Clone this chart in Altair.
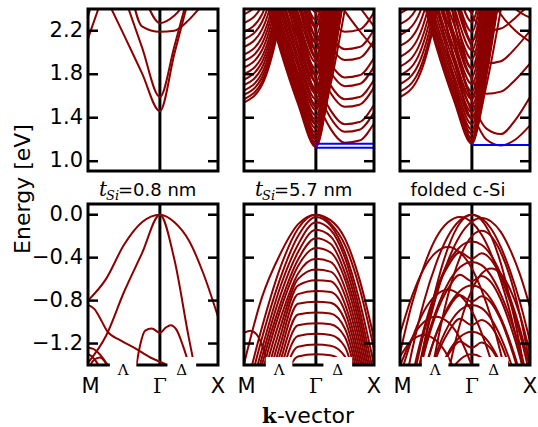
import altair as alt
import pandas as pd

RED = "#8B0000"
GAMMA = 0.553
W = 130
H_TOP = 162
H_BOT = 161
Y_TOP = [0.91, 2.40]
Y_BOT = [-1.40, 0.10]
TICKS_TOP = [1.0, 1.4, 1.8, 2.2]
TICK_LABELS_TOP = ["1.0", "1.4", "1.8", "2.2"]
TICKS_BOT = [-1.2, -0.8, -0.4, 0.0]
TICK_LABELS_BOT = ["\u22121.2", "\u22120.8", "\u22120.4", "0.0"]

# k grids (M = 0, Gamma = 0.553, X = 1)
K9 = [0.0, 0.138, 0.277, 0.415, 0.553, 0.665, 0.776, 0.888, 1.0]
K13 = [0.0, 0.092, 0.184, 0.276, 0.369, 0.461, 0.553, 0.627, 0.701, 0.775, 0.849, 0.924, 1.0]

# ---------------- panel 1 : t_Si = 0.8 nm ----------------
P1_CB = [
    [2.90, 2.51, 2.16, 1.81, 1.46, 1.99, 2.50, 3.00, 3.40],
    [3.60, 3.00, 2.52, 2.05, 1.59, 2.06, 2.55, 3.00, 3.40],
    [3.50, 3.20, 2.80, 2.24, 2.19, 2.20, 2.30, 2.45, 2.60],
    [3.60, 3.30, 2.90, 2.55, 2.27, 2.34, 2.50, 2.70, 2.90],
    [2.13, 2.60, 3.10, 3.50, 3.80, 3.80, 3.80, 3.80, 3.80],
    [2.33, 2.90, 3.40, 3.80, 3.80, 3.80, 3.80, 3.80, 3.80],
]
P1_VB = [
    (K9, [-0.80, -0.60, -0.28, -0.07, 0.0, -0.07, -0.24, -0.55, -0.95]),
    (K9, [-1.38, -1.13, -0.72, -0.36, 0.0, -0.42, -1.15, -1.80, -2.30]),
    ([0.0, 0.05, 0.10, 0.15, 0.25, 0.37, 0.48, 0.553, 0.60, 0.65],
     [-0.84, -0.88, -0.98, -1.09, -1.17, -1.25, -1.33, -1.37, -1.40, -1.50]),
    ([0.366, 0.40, 0.44, 0.49, 0.553, 0.60, 0.635, 0.68, 0.73, 0.79],
     [-1.45, -1.22, -1.08, -1.06, -1.10, -1.05, -1.03, -1.07, -1.22, -1.45]),
    ([0.0, 0.04, 0.09, 0.14, 0.18], [-1.24, -1.25, -1.30, -1.38, -1.45]),
    ([0.0, 0.03, 0.07, 0.10], [-1.30, -1.32, -1.38, -1.45]),
    ([0.0, 0.04, 0.09, 0.13, 0.16], [-1.45, -1.36, -1.33, -1.37, -1.45]),
]

# ---------------- panel 2 : t_Si = 5.7 nm ----------------
P2_CB = [
    # subbands with minimum at Gamma
    [3.23, 2.63, 2.03, 1.53, 1.13, 1.76, 2.58, 3.43, 4.23],
    [3.25, 2.65, 2.05, 1.55, 1.15, 1.78, 2.60, 3.45, 4.25],
    [3.27, 2.67, 2.07, 1.57, 1.17, 1.80, 2.62, 3.47, 4.27],
    [3.30, 2.70, 2.10, 1.60, 1.20, 1.83, 2.65, 3.50, 4.30],
    [3.33, 2.73, 2.13, 1.63, 1.23, 1.86, 2.68, 3.53, 4.33],
    [3.36, 2.76, 2.16, 1.66, 1.26, 1.89, 2.71, 3.56, 4.36],
    [3.40, 2.80, 2.20, 1.70, 1.30, 1.93, 2.75, 3.60, 4.40],
    [3.44, 2.84, 2.24, 1.74, 1.34, 1.97, 2.79, 3.64, 4.44],
    [3.48, 2.88, 2.28, 1.78, 1.38, 2.01, 2.83, 3.68, 4.48],
    [3.52, 2.92, 2.32, 1.82, 1.42, 2.05, 2.87, 3.72, 4.52],
    [3.57, 2.97, 2.37, 1.87, 1.47, 2.10, 2.92, 3.77, 4.57],
    [3.62, 3.02, 2.42, 1.92, 1.52, 2.15, 2.97, 3.82, 4.62],
    [3.67, 3.07, 2.47, 1.97, 1.57, 2.20, 3.02, 3.87, 4.67],
    [3.72, 3.12, 2.52, 2.02, 1.62, 2.25, 3.07, 3.92, 4.72],
    [3.77, 3.17, 2.57, 2.07, 1.67, 2.30, 3.12, 3.97, 4.77],
    [3.83, 3.23, 2.63, 2.13, 1.73, 2.36, 3.18, 4.03, 4.83],
    [3.89, 3.29, 2.69, 2.19, 1.79, 2.42, 3.24, 4.09, 4.89],
    [3.95, 3.35, 2.75, 2.25, 1.85, 2.48, 3.30, 4.15, 4.95],
    [4.01, 3.41, 2.81, 2.31, 1.91, 2.54, 3.36, 4.21, 5.01],
    [4.07, 3.47, 2.87, 2.37, 1.97, 2.60, 3.42, 4.27, 5.07],
    [4.13, 3.53, 2.93, 2.43, 2.03, 2.66, 3.48, 4.33, 5.13],
    [4.19, 3.59, 2.99, 2.49, 2.09, 2.72, 3.54, 4.39, 5.19],
    [4.26, 3.66, 3.06, 2.56, 2.16, 2.79, 3.61, 4.46, 5.26],
    [4.33, 3.73, 3.13, 2.63, 2.23, 2.86, 3.68, 4.53, 5.33],
    [4.40, 3.80, 3.20, 2.70, 2.30, 2.93, 3.75, 4.60, 5.40],
    [4.47, 3.87, 3.27, 2.77, 2.37, 3.00, 3.82, 4.67, 5.47],
    # steeper subbands at Gamma
    [4.20, 3.30, 2.50, 1.75, 1.20, 1.70, 2.40, 3.20, 4.00],
    [4.35, 3.45, 2.65, 1.90, 1.35, 1.85, 2.55, 3.35, 4.15],
    [4.50, 3.60, 2.80, 2.05, 1.50, 2.00, 2.70, 3.50, 4.30],
    [4.65, 3.75, 2.95, 2.20, 1.65, 2.15, 2.85, 3.65, 4.45],
    [4.80, 3.90, 3.10, 2.35, 1.80, 2.30, 3.00, 3.80, 4.60],
    [4.95, 4.05, 3.25, 2.50, 1.95, 2.45, 3.15, 3.95, 4.75],
    [5.10, 4.20, 3.40, 2.65, 2.10, 2.60, 3.30, 4.10, 4.90],
    [5.25, 4.35, 3.55, 2.80, 2.25, 2.75, 3.45, 4.25, 5.05],
    # X-valley subbands (minimum between Gamma and X)
    [5.16, 3.96, 2.93, 2.14, 1.59, 1.30, 1.17, 1.19, 1.35],
    [5.26, 4.06, 3.03, 2.24, 1.69, 1.40, 1.27, 1.29, 1.45],
    [5.33, 4.13, 3.10, 2.31, 1.76, 1.47, 1.34, 1.36, 1.52],
    [5.49, 4.29, 3.26, 2.47, 1.92, 1.63, 1.50, 1.52, 1.68],
    [5.56, 4.36, 3.33, 2.54, 1.99, 1.70, 1.57, 1.59, 1.75],
    [5.68, 4.48, 3.45, 2.66, 2.11, 1.82, 1.69, 1.71, 1.87],
    [5.76, 4.56, 3.53, 2.74, 2.19, 1.90, 1.77, 1.79, 1.95],
    [5.92, 4.72, 3.69, 2.90, 2.35, 2.06, 1.93, 1.95, 2.11],
    [6.02, 4.82, 3.79, 3.00, 2.45, 2.16, 2.03, 2.05, 2.21],
    [6.18, 4.98, 3.95, 3.16, 2.61, 2.32, 2.19, 2.21, 2.37],
    # bands falling towards X
    [4.00, 4.00, 4.00, 3.60, 3.00, 2.60, 2.38, 2.20, 2.04],
    [4.00, 4.00, 4.00, 3.80, 3.30, 2.90, 2.60, 2.42, 2.24],
    # subbands with minimum at M
    [1.54, 1.70, 2.29, 3.34, 5.04, 6.5, 8.0, 9.5, 11.0],
    [1.57, 1.73, 2.32, 3.37, 5.07, 6.5, 8.0, 9.5, 11.0],
    [1.61, 1.77, 2.36, 3.41, 5.11, 6.5, 8.0, 9.5, 11.0],
    [1.65, 1.81, 2.40, 3.45, 5.15, 6.6, 8.1, 9.6, 11.1],
    [1.70, 1.86, 2.45, 3.50, 5.20, 6.6, 8.1, 9.6, 11.1],
    [1.75, 1.91, 2.50, 3.55, 5.25, 6.7, 8.2, 9.7, 11.2],
    [1.80, 1.96, 2.55, 3.60, 5.30, 6.7, 8.2, 9.7, 11.2],
    [1.86, 2.02, 2.61, 3.66, 5.36, 6.8, 8.3, 9.8, 11.3],
    [1.92, 2.08, 2.67, 3.72, 5.42, 6.8, 8.3, 9.8, 11.3],
    [1.98, 2.14, 2.73, 3.78, 5.48, 6.9, 8.4, 9.9, 11.4],
    [2.05, 2.21, 2.80, 3.85, 5.55, 7.0, 8.5, 10.0, 11.5],
    [2.12, 2.28, 2.87, 3.92, 5.62, 7.0, 8.5, 10.0, 11.5],
    [2.19, 2.35, 2.94, 3.99, 5.69, 7.1, 8.6, 10.1, 11.6],
    [2.27, 2.43, 3.02, 4.07, 5.77, 7.2, 8.7, 10.2, 11.7],
    [2.35, 2.51, 3.10, 4.15, 5.85, 7.3, 8.8, 10.3, 11.8],
]
P2_VB = [
    [-1.39, -0.77, -0.37, -0.09, 0.00, -0.08, -0.28, -0.68, -1.25],
    [-1.70, -1.05, -0.50, -0.13, 0.00, -0.05, -0.22, -0.60, -1.15],
    [-1.80, -1.15, -0.60, -0.20, -0.02, -0.10, -0.35, -0.80, -1.40],
    [-1.90, -1.25, -0.68, -0.28, -0.07, -0.14, -0.40, -0.88, -1.50],
    [-2.00, -1.33, -0.76, -0.35, -0.14, -0.20, -0.47, -0.95, -1.60],
    [-2.10, -1.40, -0.84, -0.42, -0.22, -0.27, -0.54, -1.02, -1.70],
    [-2.20, -1.48, -0.90, -0.48, -0.31, -0.35, -0.60, -1.10, -1.80],
    [-2.30, -1.57, -0.98, -0.55, -0.41, -0.44, -0.68, -1.18, -1.90],
    [-2.40, -1.66, -1.06, -0.60, -0.51, -0.53, -0.75, -1.26, -2.00],
    [-2.50, -1.75, -1.14, -0.66, -0.61, -0.62, -0.83, -1.34, -2.10],
    [-2.60, -1.85, -1.22, -0.74, -0.71, -0.72, -0.90, -1.42, -2.20],
    [-2.70, -1.95, -1.30, -0.83, -0.81, -0.82, -0.98, -1.50, -2.30],
    [-2.80, -2.05, -1.38, -0.93, -0.91, -0.92, -1.06, -1.58, -2.40],
    [-2.90, -2.15, -1.46, -1.03, -1.01, -1.02, -1.14, -1.66, -2.50],
    [-3.00, -2.25, -1.54, -1.13, -1.11, -1.12, -1.23, -1.75, -2.60],
    [-3.10, -2.35, -1.62, -1.23, -1.21, -1.22, -1.32, -1.84, -2.70],
    [-3.20, -2.45, -1.70, -1.32, -1.30, -1.31, -1.40, -1.90, -2.80],
]
P2_VB_EDGE = ([0.0, 0.05, 0.10, 0.15, 0.20], [-1.10, -1.08, -1.12, -1.25, -1.45])

# ---------------- panel 3 : folded c-Si ----------------
P3_CB = [
    [3.26, 2.66, 2.06, 1.56, 1.16, 1.79, 2.61, 3.46, 4.26],
    [3.28, 2.68, 2.08, 1.58, 1.18, 1.81, 2.63, 3.48, 4.28],
    [3.31, 2.71, 2.11, 1.61, 1.21, 1.84, 2.66, 3.51, 4.31],
    [3.35, 2.75, 2.15, 1.65, 1.25, 1.88, 2.70, 3.55, 4.35],
    [3.39, 2.79, 2.19, 1.69, 1.29, 1.92, 2.74, 3.59, 4.39],
    [3.44, 2.84, 2.24, 1.74, 1.34, 1.97, 2.79, 3.64, 4.44],
    [3.49, 2.89, 2.29, 1.79, 1.39, 2.02, 2.84, 3.69, 4.49],
    [3.55, 2.95, 2.35, 1.85, 1.45, 2.08, 2.90, 3.75, 4.55],
    [3.61, 3.01, 2.41, 1.91, 1.51, 2.14, 2.96, 3.81, 4.61],
    [3.67, 3.07, 2.47, 1.97, 1.57, 2.20, 3.02, 3.87, 4.67],
    [3.74, 3.14, 2.54, 2.04, 1.64, 2.27, 3.09, 3.94, 4.74],
    [3.81, 3.21, 2.61, 2.11, 1.71, 2.34, 3.16, 4.01, 4.81],
    [3.88, 3.28, 2.68, 2.18, 1.78, 2.41, 3.23, 4.08, 4.88],
    [3.96, 3.36, 2.76, 2.26, 1.86, 2.49, 3.31, 4.16, 4.96],
    [4.04, 3.44, 2.84, 2.34, 1.94, 2.57, 3.39, 4.24, 5.04],
    [4.12, 3.52, 2.92, 2.42, 2.02, 2.65, 3.47, 4.32, 5.12],
    [4.20, 3.60, 3.00, 2.50, 2.10, 2.73, 3.55, 4.40, 5.20],
    [4.29, 3.69, 3.09, 2.59, 2.19, 2.82, 3.64, 4.49, 5.29],
    [4.38, 3.78, 3.18, 2.68, 2.28, 2.91, 3.73, 4.58, 5.38],
    [4.47, 3.87, 3.27, 2.77, 2.37, 3.00, 3.82, 4.67, 5.47],
    [4.20, 3.30, 2.50, 1.75, 1.20, 1.70, 2.40, 3.20, 4.00],
    [4.40, 3.50, 2.70, 1.95, 1.40, 1.90, 2.60, 3.40, 4.20],
    [4.60, 3.70, 2.90, 2.15, 1.60, 2.10, 2.80, 3.60, 4.40],
    [4.85, 3.95, 3.15, 2.40, 1.85, 2.35, 3.05, 3.85, 4.65],
    [5.10, 4.20, 3.40, 2.65, 2.10, 2.60, 3.30, 4.10, 4.90],
    # valleys between Gamma and X
    [4.60, 3.60, 2.70, 1.95, 1.45, 1.20, 1.145, 1.20, 1.33],
    [4.00, 3.50, 2.80, 2.10, 1.55, 1.30, 1.25, 1.38, 1.59],
    [4.00, 4.00, 3.50, 2.30, 1.75, 1.62, 1.64, 1.75, 1.90],
    [4.00, 4.00, 3.80, 2.60, 2.05, 1.90, 1.92, 2.04, 2.20],
    [4.00, 4.00, 4.00, 2.90, 2.35, 2.20, 2.22, 2.32, 2.45],
    [4.00, 4.00, 4.00, 3.60, 3.00, 2.60, 2.35, 2.20, 2.10],
    [4.00, 4.00, 4.00, 3.80, 3.20, 2.80, 2.55, 2.40, 2.32],
    # bands with minimum at M
    [1.59, 1.76, 2.35, 3.40, 5.10, 6.5, 8.0, 9.5, 11.0],
    [1.64, 1.81, 2.40, 3.45, 5.15, 6.6, 8.1, 9.6, 11.1],
    [1.71, 1.88, 2.47, 3.52, 5.22, 6.6, 8.1, 9.6, 11.1],
    [1.79, 1.96, 2.55, 3.60, 5.30, 6.7, 8.2, 9.7, 11.2],
    [1.87, 2.04, 2.63, 3.68, 5.38, 6.8, 8.3, 9.8, 11.3],
    [1.96, 2.13, 2.72, 3.77, 5.47, 6.9, 8.4, 9.9, 11.4],
    [2.06, 2.23, 2.82, 3.87, 5.57, 7.0, 8.5, 10.0, 11.5],
    [2.16, 2.33, 2.92, 3.97, 5.67, 7.1, 8.6, 10.1, 11.6],
    [2.26, 2.43, 3.02, 4.07, 5.77, 7.2, 8.7, 10.2, 11.7],
    [2.36, 2.53, 3.12, 4.17, 5.87, 7.3, 8.8, 10.3, 11.8],
]
P3_VB = [
    [-1.83, -1.27, -0.81, -0.46, -0.20, -0.051, 0.00, -0.033, -0.13, -0.30, -0.53, -0.82, -1.18],
    [-2.70, -1.90, -1.22, -0.69, -0.31, -0.077, 0.00, -0.05, -0.20, -0.45, -0.80, -1.23, -1.77],
    [-1.29, -0.83, -0.48, -0.22, -0.071, -0.02, -0.071, -0.185, -0.366, -0.61, -0.92, -1.31, -1.76],
    [-2.39, -1.75, -1.21, -0.77, -0.43, -0.195, -0.063, -0.03, -0.063, -0.16, -0.33, -0.56, -0.86],
    [-2.08, -1.52, -1.06, -0.71, -0.45, -0.30, -0.25, -0.28, -0.38, -0.55, -0.78, -1.07, -1.43],
    [-2.27, -1.71, -1.25, -0.90, -0.64, -0.49, -0.44, -0.47, -0.57, -0.74, -0.97, -1.26, -1.62],
    [-2.49, -1.93, -1.47, -1.12, -0.86, -0.71, -0.66, -0.69, -0.79, -0.96, -1.19, -1.48, -1.84],
    [-2.67, -2.11, -1.65, -1.30, -1.04, -0.89, -0.84, -0.87, -0.97, -1.14, -1.37, -1.66, -2.02],
    [-2.92, -2.36, -1.90, -1.55, -1.29, -1.14, -1.09, -1.12, -1.22, -1.39, -1.62, -1.91, -2.27],
    [-3.13, -2.57, -2.11, -1.76, -1.50, -1.35, -1.30, -1.33, -1.43, -1.60, -1.83, -2.12, -2.48],
    [-2.20, -1.60, -1.10, -0.72, -0.48, -0.35, -0.41, -0.36, -0.42, -0.58, -0.82, -1.12, -1.50],
    [-2.40, -1.80, -1.30, -0.93, -0.69, -0.56, -0.62, -0.57, -0.63, -0.79, -1.03, -1.33, -1.70],
    [-2.60, -2.00, -1.50, -1.12, -0.88, -0.75, -0.81, -0.76, -0.82, -0.98, -1.22, -1.52, -1.90],
    [-2.80, -2.20, -1.70, -1.34, -1.10, -0.97, -1.03, -0.98, -1.04, -1.20, -1.44, -1.74, -2.10],
    [-3.00, -2.40, -1.90, -1.55, -1.31, -1.18, -1.24, -1.19, -1.25, -1.41, -1.65, -1.95, -2.30],
    [-1.41, -1.15, -1.00, -0.95, -1.00, -1.15, -1.41, -1.69, -2.03, -2.50, -3.00, -3.50, -4.00],
    [-1.32, -1.17, -1.12, -1.17, -1.32, -1.58, -1.93, -2.30, -2.70, -3.10, -3.50, -4.00, -4.50],
    [-1.51, -1.16, -0.90, -0.751, -0.70, -0.751, -0.90, -1.10, -1.36, -1.69, -2.08, -2.55, -3.07],
    [-1.11, -0.76, -0.50, -0.351, -0.30, -0.351, -0.50, -0.70, -0.96, -1.29, -1.68, -2.15, -2.67],
    [-3.65, -2.75, -1.92, -1.26, -0.75, -0.40, -0.20, -0.15, -0.20, -0.35, -0.59, -0.94, -1.40],
    [-4.50, -3.60, -2.90, -2.10, -1.49, -1.02, -0.70, -0.55, -0.50, -0.55, -0.70, -0.94, -1.29],
]

BLUE_LEVELS = [[], [1.16, 1.123], [1.15]]
GAP_START = [0.168, 0.611]
GAP_END = [0.372, 0.832]
SYM_K = [0.27, 0.72]
SYM_TEXT = ["Λ", "Δ"]
TITLES = [("t", "Si", "=0.8 nm"), ("t", "Si", "=5.7 nm"), None]


def grid_frame(bands, grid):
    rows = []
    for i, b in enumerate(bands):
        for k, e in zip(grid, b):
            rows.append({"band": i, "k": k, "E": e})
    return pd.DataFrame(rows)


def point_frame(bands, start=0):
    rows = []
    for i, (ks, es) in enumerate(bands):
        for k, e in zip(ks, es):
            rows.append({"band": start + i, "k": k, "E": e})
    return pd.DataFrame(rows)


def ex(field="k"):
    return alt.X(f"{field}:Q", scale=alt.Scale(domain=[0, 1], nice=False, zero=False), axis=None)


def ey(ydom, field="E"):
    return alt.Y(f"{field}:Q", scale=alt.Scale(domain=ydom, nice=False, zero=False), axis=None)


def text_at(s, x, y, size, font="DejaVu Sans", style="normal", weight="normal",
            align="left", angle=0):
    return alt.Chart(pd.DataFrame({"s": [s]})).mark_text(
        font=font, fontSize=size, fontStyle=style, fontWeight=weight, align=align,
        baseline="alphabetic", angle=angle, color="black"
    ).encode(text="s:N", x=alt.value(x), y=alt.value(y))


def panel(idx, bottom, band_df):
    H = H_BOT if bottom else H_TOP
    ydom = Y_BOT if bottom else Y_TOP
    yticks = TICKS_BOT if bottom else TICKS_TOP
    ylabels = TICK_LABELS_BOT if bottom else TICK_LABELS_TOP
    layers = []
    layers.append(alt.Chart(pd.DataFrame({"k": [GAMMA]})).mark_rule(
        color="black", strokeWidth=3).encode(x=ex()))
    layers.append(alt.Chart(band_df).mark_line(
        color=RED, strokeWidth=2.0, clip=True, interpolate="monotone"
    ).encode(x=ex(), y=ey(ydom), detail="band:N"))
    if not bottom and BLUE_LEVELS[idx]:
        bl = pd.DataFrame({"k0": [GAMMA] * len(BLUE_LEVELS[idx]),
                           "k1": [1.0] * len(BLUE_LEVELS[idx]),
                           "E": BLUE_LEVELS[idx]})
        layers.append(alt.Chart(bl).mark_rule(color="#0000FF", strokeWidth=2).encode(
            x=ex("k0"), x2="k1:Q", y=ey(ydom)))
    # frame
    layers.append(alt.Chart(pd.DataFrame({"a": [0]})).mark_rect(
        fillOpacity=0, stroke="black", strokeWidth=3).encode(
        x=alt.value(0), x2=alt.value(W), y=alt.value(0), y2=alt.value(H)))
    tdf = pd.DataFrame({"E": yticks, "lab": ylabels})
    layers.append(alt.Chart(tdf).mark_rule(color="black", strokeWidth=2.5).encode(
        y=ey(ydom), x=alt.value(0), x2=alt.value(10)))
    layers.append(alt.Chart(tdf).mark_rule(color="black", strokeWidth=2.5).encode(
        y=ey(ydom), x=alt.value(W - 10), x2=alt.value(W)))
    if idx == 0:
        layers.append(alt.Chart(tdf).mark_text(
            font="DejaVu Sans", fontSize=21, align="right", baseline="middle", color="black"
        ).encode(y=ey(ydom), x=alt.value(-5), text="lab:N"))
    if bottom:
        gdf = pd.DataFrame({"a": GAP_START, "b": GAP_END})
        layers.append(alt.Chart(gdf).mark_rect(color="white").encode(
            x=ex("a"), x2="b:Q", y=alt.value(H - 8), y2=alt.value(H + 14)))
        sdf = pd.DataFrame({"k": SYM_K, "s": SYM_TEXT})
        layers.append(alt.Chart(sdf).mark_text(
            font="DejaVu Serif", fontSize=15, baseline="alphabetic", color="black"
        ).encode(x=ex(), y=alt.value(H + 10), text="s:N"))
        mdf = pd.DataFrame({"k": [0.02, 1.0], "s": ["M", "X"]})
        layers.append(alt.Chart(mdf).mark_text(
            font="DejaVu Sans", fontSize=21, baseline="alphabetic", color="black"
        ).encode(x=ex(), y=alt.value(H + 28), text="s:N"))
        gdf2 = pd.DataFrame({"k": [GAMMA], "s": ["Γ"]})
        layers.append(alt.Chart(gdf2).mark_text(
            font="DejaVu Serif", fontSize=20, baseline="alphabetic", color="black"
        ).encode(x=ex(), y=alt.value(H + 28), text="s:N"))
        if TITLES[idx] is not None:
            a, b, c = TITLES[idx]
            layers.append(text_at(a, 11, -8, 20, font="DejaVu Serif", style="italic"))
            layers.append(text_at(b, 18, -4, 13, font="DejaVu Serif", style="italic"))
            layers.append(text_at(c, 30, -8, 18))
        else:
            layers.append(text_at("folded c-Si", 58, -8, 18, align="center"))
        if idx == 1:
            layers.append(text_at("k", 18, H + 58, 21, font="DejaVu Serif", weight="bold"))
            layers.append(text_at("-vector", 33, H + 58, 22))
    else:
        if idx == 0:
            layers.append(text_at("Energy [eV]", -58, 180, 22, align="center", angle=270))
    return alt.layer(*layers).properties(width=W, height=H)


top_frames = [grid_frame(P1_CB, K9), grid_frame(P2_CB, K9), grid_frame(P3_CB, K9)]
p1_vb = point_frame(P1_VB)
p2_vb = pd.concat([grid_frame(P2_VB, K9), point_frame([P2_VB_EDGE], start=100)])
p3_vb = grid_frame(P3_VB, K13)
bot_frames = [p1_vb, p2_vb, p3_vb]

panels = [panel(i, False, top_frames[i]) for i in range(3)] + \
         [panel(i, True, bot_frames[i]) for i in range(3)]

chart = alt.concat(
    *panels, columns=3, spacing=alt.RowColnumber(row=33, column=26), bounds="flush"
).resolve_scale(
    x="independent", y="independent"
).properties(
    padding={"left": 12, "top": 7, "right": 0, "bottom": 0}, background="white"
).configure_view(stroke=None)

chart.save("out.html", embed_options={"renderer": "svg", "actions": False})
